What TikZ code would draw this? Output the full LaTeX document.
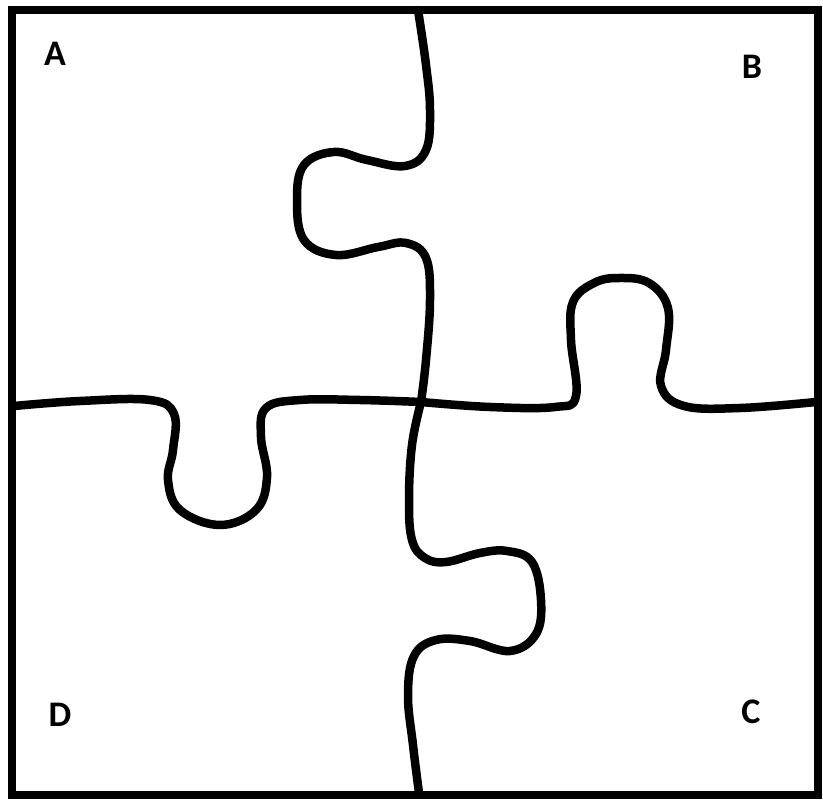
\documentclass[tikz,border=0pt]{standalone}
\usepackage{fontspec}
\setmainfont{Carlito}
\begin{document}
\begin{tikzpicture}[x=1pt,y=-1pt,
  cut/.style={line width=8.5pt,line cap=round,line join=round,black},
  frame/.style={line width=7.5pt,black},
  lbl/.style={font=\bfseries\fontsize{36}{40}\selectfont,inner sep=0pt}]
\useasboundingbox (0,0) rectangle (823,800);
\fill[white] (0,0) rectangle (823,800);
% outer frame
\draw[frame] (12,10) rectangle (818,795);
% centre junction
\coordinate (ctr) at (421,402);
% upper vertical cut (A | B)
\draw[cut] plot[smooth,tension=0.65] coordinates {
 (418,10) (426,65) (430,110) (426,150) (405,166) (367,160) (334,152)
 (304,165) (297,200) (304,240) (336,255) (378,247) (406,243) (426,258)
 (430,300) (426,360) (421,402)};
% left horizontal cut (A | D)
\draw[cut] plot[smooth,tension=0.65] coordinates {
 (14,406) (80,401) (150,400) (174,414) (173,450) (168,480) (180,510)
 (220,525) (256,510) (267,477) (261,437) (266,408) (300,400) (360,400) (421,402)};
% right horizontal cut (B | C)
\draw[cut] plot[smooth,tension=0.65] coordinates {
 (421,402) (490,407) (555,407) (576,396) (571,340) (573,302) (594,283) (619,278)
 (649,283) (668,308) (666,350) (661,386) (684,406) (740,408) (816,402)};
% lower vertical cut (D | C)
\draw[cut] plot[smooth,tension=0.65] coordinates {
 (421,402) (412,445) (409,500) (412,540) (425,558) (446,562) (480,553) (507,551)
 (532,562) (541,600) (536,634) (510,651) (470,641) (436,640) (414,656)
 (408,695) (413,745) (419,793)};
% labels
\node[lbl] (A) at (55,54) {A};
\node[lbl] (B) at (752,67) {B};
\node[lbl] (C) at (751,712) {C};
\node[lbl] (D) at (60,715) {D};
\end{tikzpicture}
\end{document}
